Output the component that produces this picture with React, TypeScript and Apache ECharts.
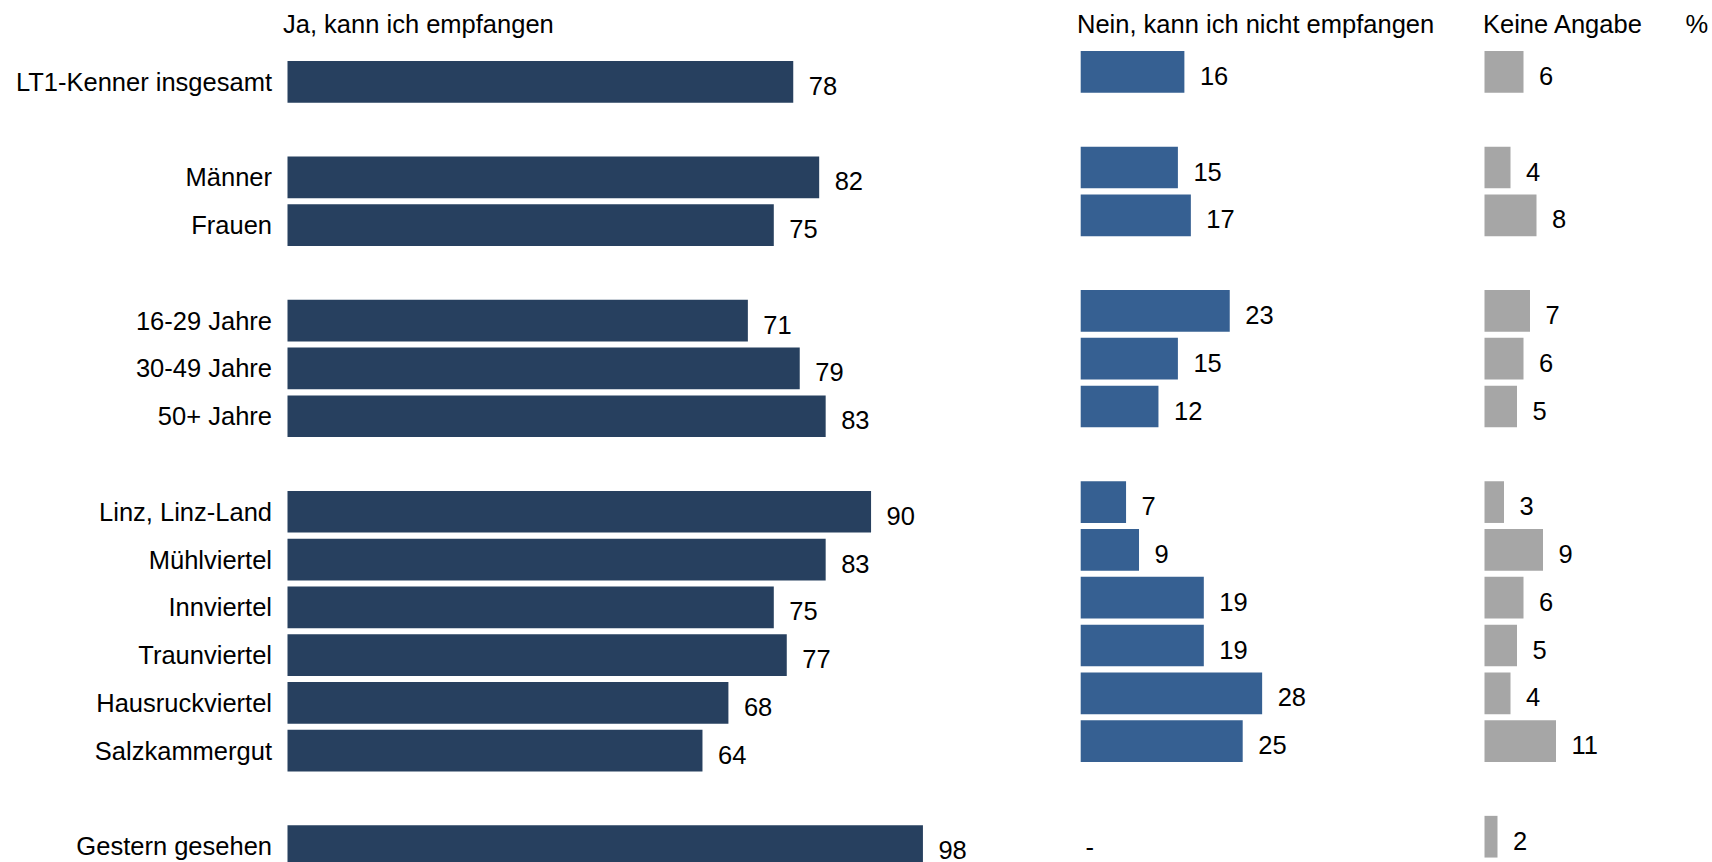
import React, { useEffect, useRef } from "react";
import * as echarts from "echarts";

const categories = [
  "LT1-Kenner insgesamt",
  "",
  "Männer",
  "Frauen",
  "",
  "16-29 Jahre",
  "30-49 Jahre",
  "50+ Jahre",
  "",
  "Linz, Linz-Land",
  "Mühlviertel",
  "Innviertel",
  "Traunviertel",
  "Hausruckviertel",
  "Salzkammergut",
  "",
  "Gestern gesehen",
];

const jaValues = [78, null, 82, 75, null, 71, 79, 83, null, 90, 83, 75, 77, 68, 64, null, 98];
const neinValues = [16, null, 15, 17, null, 23, 15, 12, null, 7, 9, 19, 19, 28, 25, null, "-"];
const keineValues = [6, null, 4, 8, null, 7, 6, 5, null, 3, 9, 6, 5, 4, 11, null, 2];

const panelTitles = ["Ja, kann ich empfangen", "Nein, kann ich nicht empfangen", "Keine Angabe", "%"];

const FONT = "Liberation Sans, Arial, Helvetica, sans-serif";
const FS = 25.5;

export default function App() {
  const ref = useRef<HTMLDivElement>(null);

  useEffect(() => {
    if (!ref.current) return;
    const chart = echarts.init(ref.current, undefined, { renderer: "svg" });

    const labelBase = {
      show: true,
      position: "right" as const,
      distance: 15.5,
      fontSize: FS,
      fontFamily: FONT,
      color: "#000",
      offset: [0, 4],
    };

    const toData = (arr: any[]) =>
      arr.map((v) => {
        if (v === "-") {
          return { value: 0, label: { formatter: "-", offset: [-10.7, 10] } };
        }
        return v === null ? null : v;
      });

    const grids = [
      { left: 287.5, top: 58, width: 648.4, height: 812 },
      { left: 1080.7, top: 48, width: 324, height: 812.6 },
      { left: 1484.5, top: 48, width: 195, height: 812.6 },
    ];
    const maxes = [100, 50, 30];

    const colors = ["#27405F", "#366092", "#A6A6A6"];
    const values = [jaValues, neinValues, keineValues];

    const option: any = {
      animation: false,
      backgroundColor: "#fff",
      textStyle: { fontFamily: FONT },
      grid: grids.map((g) => ({ ...g, containLabel: false })),
      xAxis: grids.map((_, i) => ({
        type: "value",
        gridIndex: i,
        min: 0,
        max: maxes[i],
        show: false,
      })),
      yAxis: grids.map((_, i) => ({
        type: "category",
        gridIndex: i,
        data: categories,
        inverse: true,
        axisLine: { show: false },
        axisTick: { show: false },
        splitLine: { show: false },
        axisLabel: {
          show: i === 0,
          fontSize: FS,
          fontFamily: FONT,
          color: "#000",
          margin: 15.5,
          padding: [0, 0, 4, 0],
        },
      })),
      series: values.map((arr, i) => ({
        type: "bar",
        xAxisIndex: i,
        yAxisIndex: i,
        data: toData(arr),
        barWidth: 41.7,
        itemStyle: { color: colors[i] },
        label: labelBase,
      })),
      graphic: [
        { x: 283, y: 23.7 },
        { x: 1077, y: 23.7 },
        { x: 1483, y: 23.7 },
        { x: 1685.5, y: 23.7 },
      ].map((p, i) => ({
        type: "text",
        x: p.x,
        y: p.y,
        style: {
          text: panelTitles[i],
          fontSize: FS,
          fontFamily: FONT,
          fill: "#000",
          textVerticalAlign: "middle",
          verticalAlign: "middle",
        },
      })),
    };

    chart.setOption(option);
    return () => chart.dispose();
  }, []);

  return (
    <div
      style={{
        position: "fixed",
        left: 0,
        top: 0,
        width: 1712,
        height: 862,
        overflow: "hidden",
        background: "#fff",
      }}
    >
      <div ref={ref} style={{ width: 1712, height: 900 }} />
    </div>
  );
}
